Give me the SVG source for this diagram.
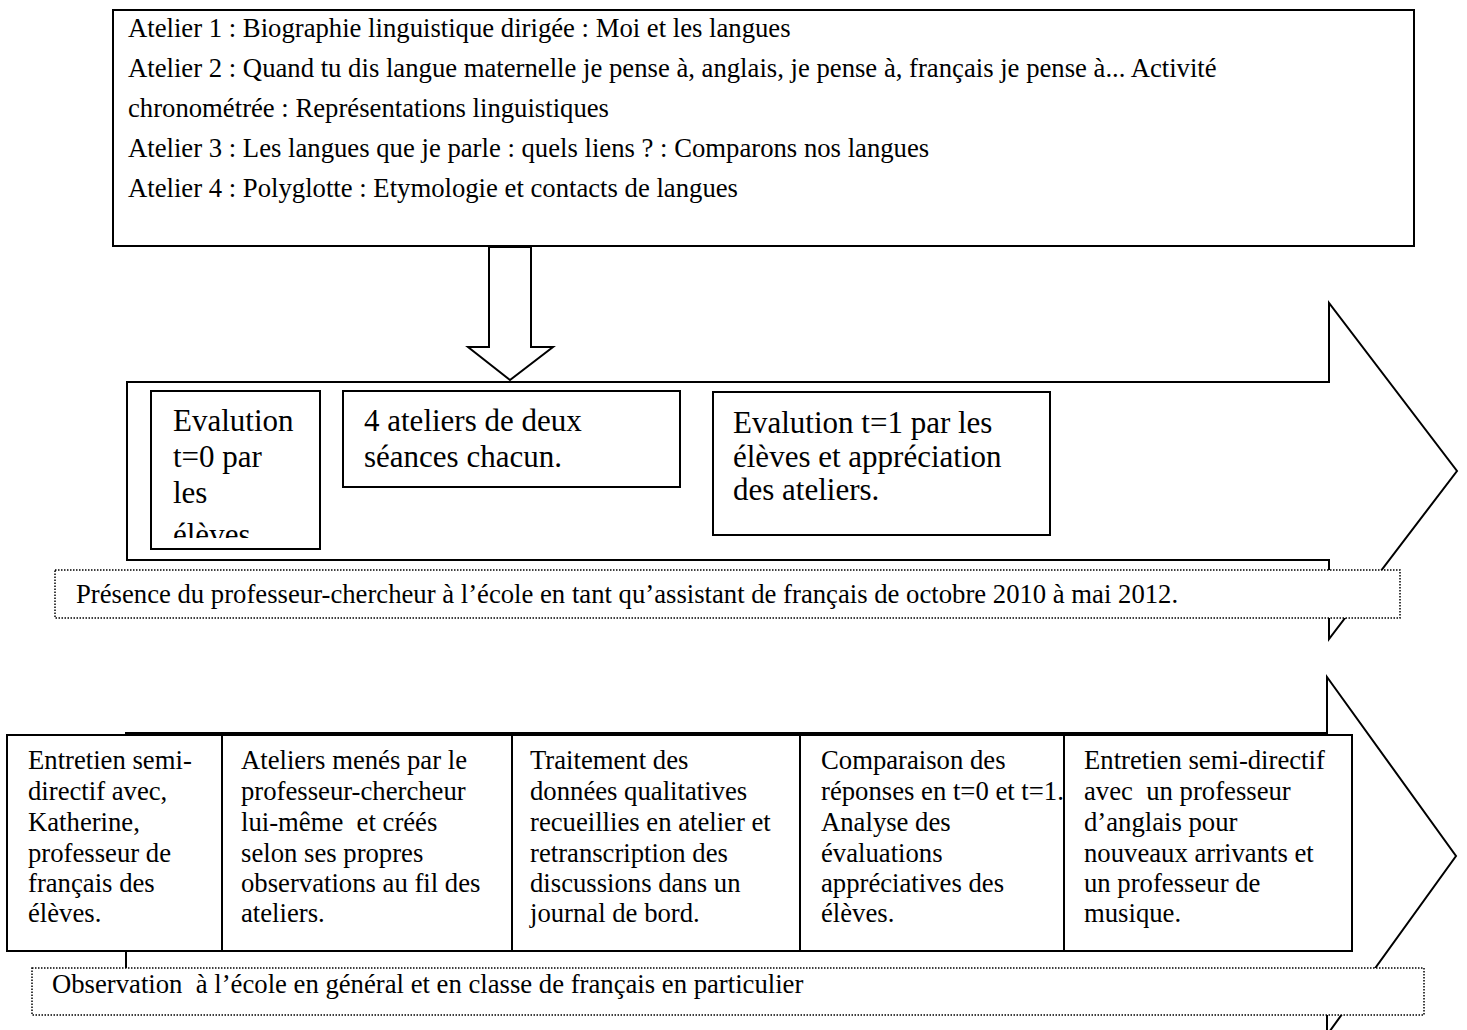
<svg xmlns="http://www.w3.org/2000/svg" width="1467" height="1030" viewBox="0 0 1467 1030">
<defs>
<style>
.t{font-family:"Liberation Serif","Times New Roman",serif;font-size:26.7px;fill:#000}
.big{font-family:"Liberation Serif","Times New Roman",serif;font-size:31px;fill:#000}
.box{fill:#fff;stroke:#000;stroke-width:2}
.dot{fill:#fff;stroke:#000;stroke-width:1.5;stroke-dasharray:1.5 1.5}
.ln{fill:none;stroke:#000;stroke-width:2}
</style>
<clipPath id="c1"><rect x="152" y="392" width="167" height="146"/></clipPath>
</defs>
<rect width="1467" height="1030" fill="#fff"/>

<g id="ateliers-box">
<rect class="box" x="113" y="10" width="1301" height="236"/>
<text class="t" x="128" y="37">Atelier 1 : Biographie linguistique dirigée : Moi et les langues</text>
<text class="t" x="128" y="77">Atelier 2 : Quand tu dis langue maternelle je pense à, anglais, je pense à, français je pense à... Activité</text>
<text class="t" x="128" y="117">chronométrée : Représentations linguistiques</text>
<text class="t" x="128" y="157">Atelier 3 : Les langues que je parle : quels liens ? : Comparons nos langues</text>
<text class="t" x="128" y="197">Atelier 4 : Polyglotte : Etymologie et contacts de langues</text>
</g>

<g id="connectors">
<path class="box" d="M489,247 L531,247 L531,347 L553,347 L510,380 L468,347 L489,347 Z"/>
</g>

<g id="arrow-1">
<path class="box" d="M127,382 L1329,382 L1329,303 L1457,471 L1329,639 L1329,560 L127,560 Z"/>
</g>

<g id="eval-t0">
<rect class="box" x="151" y="391" width="169" height="158"/>
<g clip-path="url(#c1)">
<text class="big" x="173" y="431">Evalution</text>
<text class="big" x="173" y="467">t=0 par</text>
<text class="big" x="173" y="503">les</text>
<text class="big" x="173" y="545">élèves.</text>
</g>
</g>

<g id="ateliers-seances">
<rect class="box" x="343" y="391" width="337" height="96"/>
<text class="big" x="364" y="431">4 ateliers de deux</text>
<text class="big" x="364" y="467">séances chacun.</text>
</g>

<g id="eval-t1">
<rect class="box" x="713" y="392" width="337" height="143"/>
<text class="big" x="733" y="433">Evalution t=1 par les</text>
<text class="big" x="733" y="467">élèves et appréciation</text>
<text class="big" x="733" y="500">des ateliers.</text>
</g>

<g id="presence">
<rect class="dot" x="55" y="570" width="1345" height="48"/>
<text class="t" x="76" y="603">Présence du professeur-chercheur à l’école en tant qu’assistant de français de octobre 2010 à mai 2012.</text>
</g>

<g id="arrow-2">
<path class="box" d="M126,733 L1327,733 L1327,677 L1456,856 L1327,1035 L1327,979 L126,979 Z"/>
</g>

<g id="table">
<rect class="box" x="7" y="735" width="1345" height="216"/>
<line class="ln" x1="222" y1="735" x2="222" y2="951"/>
<line class="ln" x1="512" y1="735" x2="512" y2="951"/>
<line class="ln" x1="800" y1="735" x2="800" y2="951"/>
<line class="ln" x1="1064" y1="735" x2="1064" y2="951"/>
</g>

<g id="cell-1">
<text class="t" x="28" y="769">Entretien semi-</text>
<text class="t" x="28" y="800">directif avec,</text>
<text class="t" x="28" y="831">Katherine,</text>
<text class="t" x="28" y="862">professeur de</text>
<text class="t" x="28" y="892">français des</text>
<text class="t" x="28" y="922">élèves.</text>
</g>
<g id="cell-2">
<text class="t" x="241" y="769">Ateliers menés par le</text>
<text class="t" x="241" y="800">professeur-chercheur</text>
<text class="t" x="241" y="831" xml:space="preserve">lui-même  et créés</text>
<text class="t" x="241" y="862">selon ses propres</text>
<text class="t" x="241" y="892">observations au fil des</text>
<text class="t" x="241" y="922">ateliers.</text>
</g>
<g id="cell-3">
<text class="t" x="530" y="769">Traitement des</text>
<text class="t" x="530" y="800">données qualitatives</text>
<text class="t" x="530" y="831">recueillies en atelier et</text>
<text class="t" x="530" y="862">retranscription des</text>
<text class="t" x="530" y="892">discussions dans un</text>
<text class="t" x="530" y="922">journal de bord.</text>
</g>
<g id="cell-4">
<text class="t" x="821" y="769">Comparaison des</text>
<text class="t" x="821" y="800">réponses en t=0 et t=1.</text>
<text class="t" x="821" y="831">Analyse des</text>
<text class="t" x="821" y="862">évaluations</text>
<text class="t" x="821" y="892">appréciatives des</text>
<text class="t" x="821" y="922">élèves.</text>
</g>
<g id="cell-5">
<text class="t" x="1084" y="769">Entretien semi-directif</text>
<text class="t" x="1084" y="800" xml:space="preserve">avec  un professeur</text>
<text class="t" x="1084" y="831">d’anglais pour</text>
<text class="t" x="1084" y="862">nouveaux arrivants et</text>
<text class="t" x="1084" y="892">un professeur de</text>
<text class="t" x="1084" y="922">musique.</text>
</g>

<g id="observation">
<rect class="dot" x="32" y="968" width="1392" height="47"/>
<text class="t" x="52" y="993" xml:space="preserve">Observation  à l’école en général et en classe de français en particulier</text>
</g>
</svg>
